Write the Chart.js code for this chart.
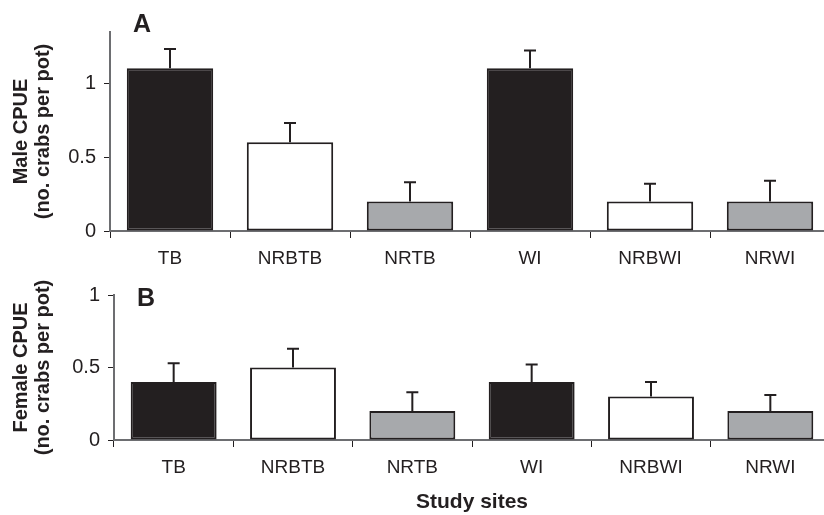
<!DOCTYPE html>
<html lang="en">
<head>
<meta charset="UTF-8">
<title>CPUE by study site</title>
<script src="https://cdn.jsdelivr.net/npm/chart.js@4/dist/chart.umd.min.js"></script>
<style>
  html, body { margin: 0; padding: 0; background: #fff; overflow: hidden; width: 824px; height: 515px; }
  canvas { position: absolute; left: 0; }
  #maleChart { top: 0; }
  #femaleChart { top: 275px; }
</style>
<script>
    // values
    var sites = ['TB', 'NRBTB', 'NRTB', 'WI', 'NRBWI', 'NRWI'];
    var maleCpue = [1.1, 0.6, 0.2, 1.1, 0.2, 0.2];
    var maleErrTop = [1.23, 0.73, 0.33, 1.22, 0.32, 0.34];
    var femaleCpue = [0.4, 0.5, 0.2, 0.4, 0.3, 0.2];
    var femaleErrTop = [0.53, 0.63, 0.33, 0.52, 0.40, 0.31];
    var yTicks = [0, 0.5, 1];

    var ink = '#231f20';
    var axisGray = '#6d6e71';
    var barFill = ['#231f20', '#ffffff', '#a7a9ac', '#231f20', '#ffffff', '#a7a9ac'];

    Chart.defaults.font.family = '"Liberation Sans", Arial, sans-serif';
    Chart.defaults.color = ink;

    // draws upward-only error bars and the panel letter
    var errorBars = {
        id: 'errorBars',
        afterDatasetsDraw: function (chart, args, opts) {
            var ctx = chart.ctx;
            var meta = chart.getDatasetMeta(0);
            var y = chart.scales.y;
            ctx.save();
            ctx.strokeStyle = ink;
            ctx.lineWidth = 2;
            meta.data.forEach(function (bar, i) {
                var yTop = y.getPixelForValue(opts.tops[i]);
                var yBar = y.getPixelForValue(chart.data.datasets[0].data[i]);
                ctx.beginPath();
                ctx.moveTo(bar.x, yBar);
                ctx.lineTo(bar.x, yTop);
                ctx.moveTo(bar.x - 6, yTop);
                ctx.lineTo(bar.x + 6, yTop);
                ctx.stroke();
            });
            ctx.fillStyle = ink;
            ctx.font = 'bold 25px "Liberation Sans", Arial, sans-serif';
            ctx.textBaseline = 'alphabetic';
            ctx.fillText(opts.letter, chart.chartArea.left + 23, chart.chartArea.top + opts.letterDy);
            ctx.restore();
        }
    };

    function makeChart(id, values, tops, yMax, letter, letterDy, yTitle, axisLeft, xHeight, showXTitle) {
        return new Chart(document.getElementById(id), {
            type: 'bar',
            data: {
                labels: sites,
                datasets: [{
                    data: values,
                    backgroundColor: barFill,
                    borderColor: ink,
                    borderWidth: 2,
                    borderSkipped: false,
                    barPercentage: 0.72,
                    categoryPercentage: 1
                }]
            },
            options: {
                responsive: false,
                animation: false,
                layout: { padding: { top: id === 'maleChart' ? 32 : 16, right: 0, left: 0, bottom: 0 } },
                plugins: {
                    legend: { display: false },
                    tooltip: { enabled: false },
                    errorBars: { tops: tops, letter: letter, letterDy: letterDy }
                },
                scales: {
                    x: {
                        grid: { display: true, drawOnChartArea: false, drawTicks: true, tickLength: 7, color: ink, lineWidth: 1, offset: true },
                        border: { display: true, color: axisGray, width: 2 },
                        ticks: { font: { size: 19 }, padding: 9, color: ink, maxRotation: 0 },
                        title: {
                            display: showXTitle,
                            text: 'Study sites',
                            font: { size: 21, weight: 'bold' },
                            padding: { top: 0, bottom: 0 },
                            color: ink
                        },
                        afterFit: function (s) { s.height = xHeight; }
                    },
                    y: {
                        min: 0,
                        max: yMax,
                        afterBuildTicks: function (s) {
                            s.ticks = yTicks.map(function (v) { return { value: v }; });
                        },
                        grid: { display: true, drawOnChartArea: false, drawTicks: true, tickLength: 6, color: ink, lineWidth: 1 },
                        border: { display: true, color: axisGray, width: 2 },
                        ticks: {
                            font: { size: 20 },
                            padding: 8,
                            color: ink,
                            callback: function (v) { return String(v); }
                        },
                        title: {
                            display: true,
                            text: yTitle,
                            font: { size: 20, weight: 'bold', lineHeight: 1.1 },
                            padding: { top: 10, bottom: 0 },
                            color: ink
                        },
                        afterFit: function (s) { s.width = axisLeft; }
                    }
                }
            },
            plugins: [errorBars]
        });
    }

    window.onload = function () {
        makeChart('maleChart', maleCpue, maleErrTop, 1.345, 'A', 0,
            ['Male CPUE', '(no. crabs per pot)'], 110, 44, false);
        makeChart('femaleChart', femaleCpue, femaleErrTop, 1, 'B', 11,
            ['Female CPUE', '(no. crabs per pot)'], 114, 75, true);
    };
</script>
</head>
<body>
    <canvas id="maleChart" width="830" height="275"></canvas>
    <canvas id="femaleChart" width="830" height="240"></canvas>
</body>
</html>
